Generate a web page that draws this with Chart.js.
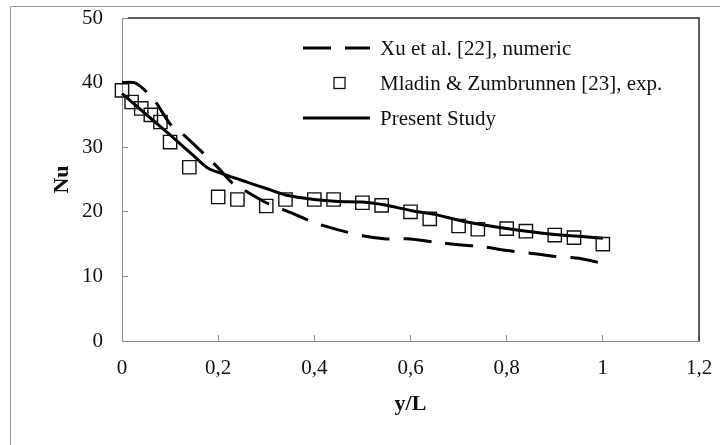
<!DOCTYPE html>
<html>
<head>
<meta charset="utf-8">
<script src="https://cdn.jsdelivr.net/npm/chart.js@4/dist/chart.umd.min.js"></script>
<style>
  html, body { margin: 0; padding: 0; background: #ffffff; }
  #wrap { width: 720px; height: 445px; position: relative; }
</style>
</head>
<body>
<div id="wrap"><canvas id="c" width="720" height="445"></canvas></div>
<script>
// ---- data ----
const xuLabel = 'Xu et al. [22], numeric';
const xuX = [0, 0.025, 0.045, 0.07, 0.1, 0.13, 0.17, 0.2, 0.23, 0.26, 0.3, 0.35, 0.4, 0.45, 0.5, 0.55, 0.6, 0.65, 0.7, 0.75, 0.8, 0.85, 0.9, 0.95, 1.0];
const xuY = [40, 40, 39, 37, 33.6, 31.8, 29, 26.8, 24.4, 23.1, 21.4, 19.9, 18.3, 17.2, 16.3, 15.8, 15.8, 15.3, 14.9, 14.6, 14.0, 13.6, 13.1, 12.8, 12.0];

const mladinLabel = 'Mladin & Zumbrunnen [23], exp.';
const mladinX = [0, 0.02, 0.04, 0.06, 0.08, 0.1, 0.14, 0.2, 0.24, 0.3, 0.34, 0.4, 0.44, 0.5, 0.54, 0.6, 0.64, 0.7, 0.74, 0.8, 0.84, 0.9, 0.94, 1.0];
const mladinY = [38.8, 37, 36, 35, 33.9, 30.8, 26.9, 22.3, 21.9, 20.9, 21.9, 21.9, 21.9, 21.4, 21, 20, 18.9, 17.8, 17.3, 17.4, 17, 16.4, 16, 15];

const presentLabel = 'Present Study';
const presentX = [0, 0.05, 0.1, 0.15, 0.18, 0.22, 0.26, 0.3, 0.34, 0.4, 0.45, 0.5, 0.55, 0.6, 0.65, 0.7, 0.75, 0.8, 0.85, 0.9, 0.95, 1.0];
const presentY = [38.3, 35.1, 31.9, 28.6, 26.7, 25.6, 24.6, 23.6, 22.6, 21.9, 21.6, 21.5, 21.0, 20.2, 19.6, 18.7, 18.0, 17.4, 16.9, 16.5, 16.2, 15.9];

const xTickLabels = ['0', '0,2', '0,4', '0,6', '0,8', '1', '1,2'];
const yTickLabels = ['0', '10', '20', '30', '40', '50'];
const xTitle = 'y/L';
const yTitle = 'Nu';

function pts(xs, ys) { return xs.map((x, i) => ({ x: x, y: ys[i] })); }

const SERIF = "'Liberation Serif', 'Times New Roman', serif";

function noPad(scale) {
  scale.paddingLeft = 0; scale.paddingRight = 0;
  scale.paddingTop = 0; scale.paddingBottom = 0;
}

const frame = {
  id: 'frame',
  beforeDraw(chart) {
    const ctx = chart.ctx;
    ctx.save();
    ctx.fillStyle = '#ffffff';
    ctx.fillRect(0, 0, chart.width, chart.height);
    ctx.strokeStyle = '#9a9a9a';
    ctx.lineWidth = 1;
    ctx.beginPath();
    ctx.moveTo(10.5, chart.height + 5);
    ctx.lineTo(10.5, 6.5);
    ctx.lineTo(chart.width + 5, 6.5);
    ctx.stroke();
    ctx.restore();
  },
  afterDraw(chart) {
    const ctx = chart.ctx;
    const a = chart.chartArea;
    ctx.save();
    ctx.strokeStyle = '#2a2a2a';
    ctx.lineWidth = 1.5;
    ctx.beginPath();
    ctx.moveTo(a.left + 6, a.top);
    ctx.lineTo(a.right, a.top);
    ctx.lineTo(a.right, a.bottom);
    ctx.stroke();
    ctx.restore();
  }
};

const innerLegend = {
  id: 'innerLegend',
  afterDraw(chart) {
    const ctx = chart.ctx;
    const x0 = 303, x1 = 370, tx = 380;
    const baselines = [55, 90, 125];
    ctx.save();
    chart.data.datasets.forEach((ds, i) => {
      const by = baselines[i];
      const my = by - 7;
      if (ds.showLine === false) {
        ctx.setLineDash([]);
        ctx.strokeStyle = ds.pointBorderColor;
        ctx.lineWidth = 1.3;
        ctx.strokeRect(334, my - 5.5, 11, 11);
      } else {
        ctx.setLineDash(ds.borderDash || []);
        ctx.strokeStyle = ds.borderColor;
        ctx.lineWidth = ds.borderWidth;
        ctx.lineCap = 'butt';
        ctx.beginPath();
        ctx.moveTo(x0, my);
        ctx.lineTo(x1, my);
        ctx.stroke();
      }
      ctx.setLineDash([]);
      ctx.fillStyle = '#111111';
      ctx.font = '21px ' + SERIF;
      ctx.textBaseline = 'alphabetic';
      ctx.textAlign = 'left';
      ctx.fillText(ds.label, tx, by);
    });
    ctx.restore();
  }
};

new Chart(document.getElementById('c'), {
  type: 'scatter',
  data: {
    datasets: [
      {
        label: xuLabel,
        data: pts(xuX, xuY),
        showLine: true,
        borderColor: '#000000',
        borderWidth: 3,
        borderDash: [28, 14],
        borderCapStyle: 'butt',
        pointRadius: 0,
        tension: 0.2,
        fill: false,
        clip: false
      },
      {
        label: mladinLabel,
        data: pts(mladinX, mladinY),
        showLine: false,
        pointStyle: 'rect',
        pointRadius: 9.4,
        pointBorderWidth: 1.4,
        pointBorderColor: '#111111',
        pointBackgroundColor: 'rgba(0,0,0,0)',
        borderColor: '#111111',
        backgroundColor: 'rgba(0,0,0,0)',
        clip: false
      },
      {
        label: presentLabel,
        data: pts(presentX, presentY),
        showLine: true,
        borderColor: '#000000',
        borderWidth: 3,
        pointRadius: 0,
        tension: 0.2,
        fill: false,
        clip: false
      }
    ]
  },
  options: {
    responsive: false,
    animation: false,
    devicePixelRatio: 1,
    layout: { padding: { left: 10, right: 21, top: 18, bottom: 0 } },
    plugins: {
      legend: { display: false },
      tooltip: { enabled: false },
      title: { display: false }
    },
    scales: {
      x: {
        type: 'linear',
        min: 0, max: 1.2,
        afterBuildTicks(scale) {
          scale.ticks = xTickLabels.map((t, i) => ({ value: i * 0.2 }));
        },
        afterFit(scale) { scale.height = 104; noPad(scale); },
        grid: { drawOnChartArea: false, drawTicks: true, tickLength: -6, color: '#8c8c8c', tickColor: '#8c8c8c' },
        border: { display: true, color: '#8c8c8c', width: 1 },
        ticks: {
          padding: 21,
          color: '#111111',
          font: { family: SERIF, size: 21 },
          maxRotation: 0,
          autoSkip: false,
          callback: (v, i) => xTickLabels[i]
        },
        title: {
          display: true,
          text: xTitle,
          color: '#111111',
          font: { family: SERIF, size: 22, weight: 'bold' },
          padding: { top: 0, bottom: 27 }
        }
      },
      y: {
        type: 'linear',
        min: 0, max: 50,
        afterBuildTicks(scale) {
          scale.ticks = yTickLabels.map((t, i) => ({ value: i * 10 }));
        },
        afterFit(scale) { scale.width = 112; noPad(scale); },
        grid: { drawOnChartArea: false, drawTicks: true, tickLength: -6, color: '#8c8c8c', tickColor: '#8c8c8c' },
        border: { display: true, color: '#8c8c8c', width: 1 },
        ticks: {
          padding: 25,
          color: '#111111',
          font: { family: SERIF, size: 21 },
          autoSkip: false,
          callback: (v, i) => yTickLabels[i]
        },
        title: {
          display: true,
          text: yTitle,
          color: '#111111',
          font: { family: SERIF, size: 22, weight: 'bold' },
          padding: { top: 39, bottom: 0 }
        }
      }
    }
  },
  plugins: [frame, innerLegend]
});
</script>
</body>
</html>
